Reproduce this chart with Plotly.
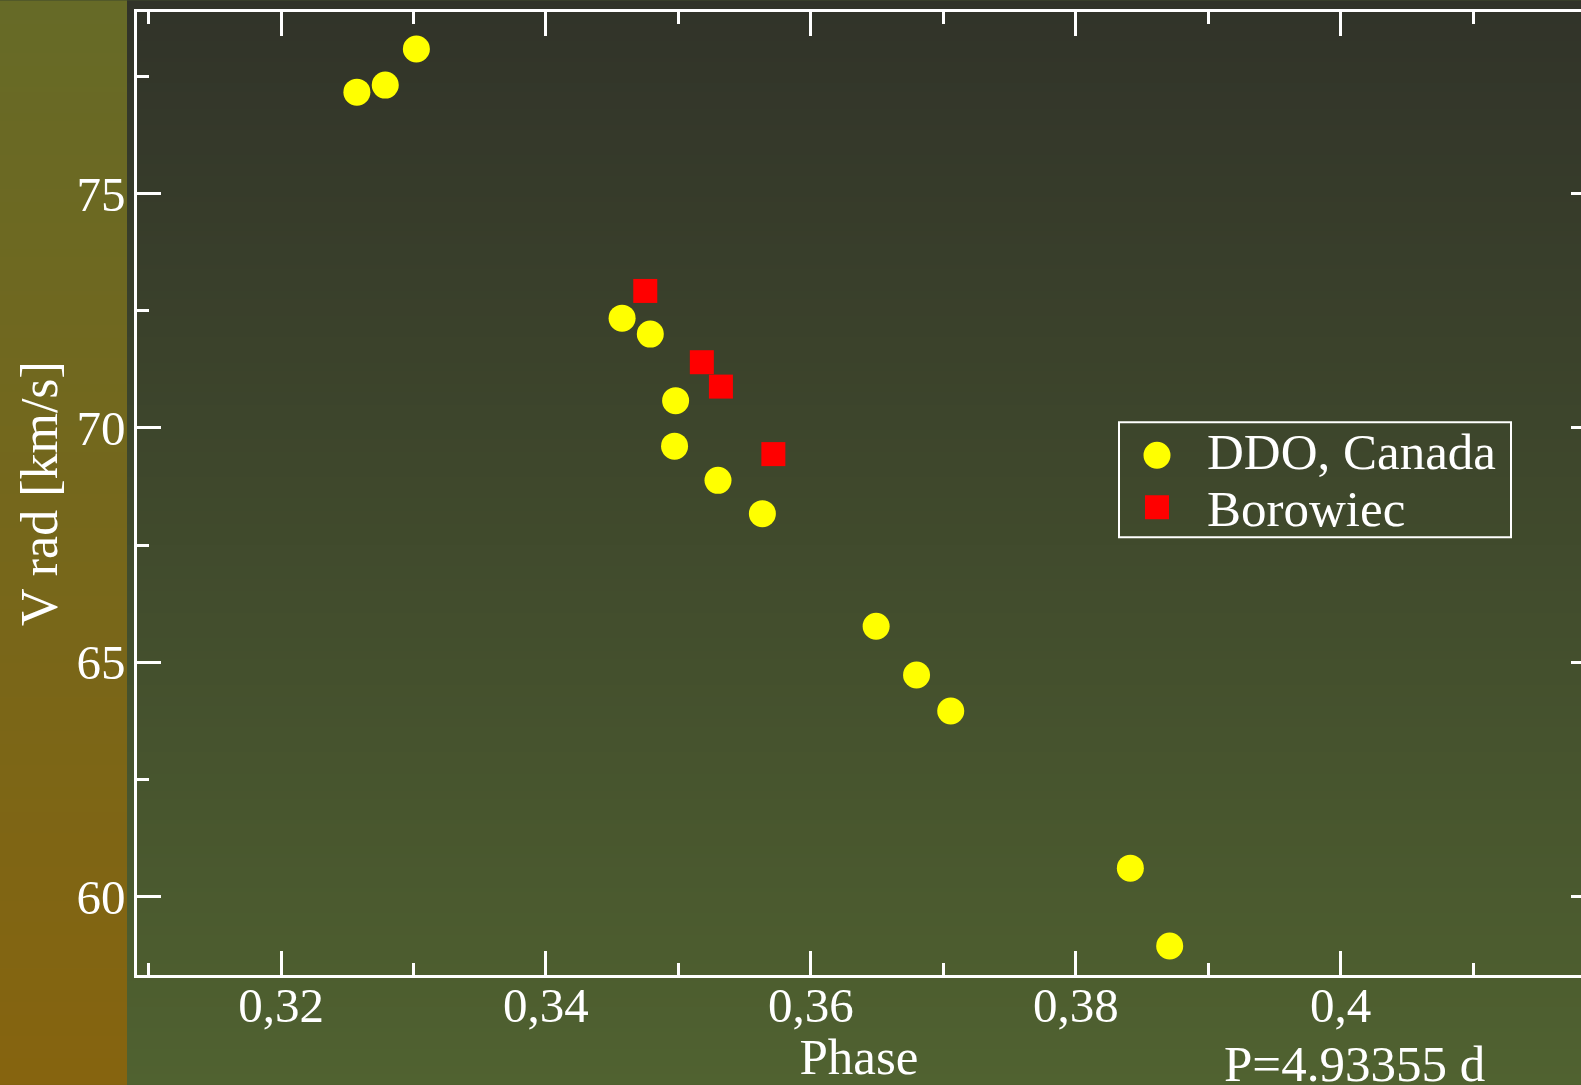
import plotly.graph_objects as go
import zlib, struct, base64

# ---------------- data ----------------
ddo_phase = [0.32573, 0.32787, 0.33022, 0.34575, 0.34788, 0.34979, 0.34971,
             0.35299, 0.35634, 0.36493, 0.36798, 0.37056, 0.38412, 0.38709]
ddo_vrad = [77.16, 77.31, 78.08, 72.34, 72.00, 70.58, 69.61,
            68.88, 68.17, 65.77, 64.73, 63.96, 60.61, 58.95]

bor_phase = [0.34750, 0.35177, 0.35321, 0.35717]
bor_vrad = [72.92, 71.40, 70.88, 69.44]

series_names = ["DDO, Canada", "Borowiec"]
series_colors = ["#ffff00", "#ff0000"]

x_tickvals = [0.32, 0.34, 0.36, 0.38, 0.40]
x_ticktext = ["0,32", "0,34", "0,36", "0,38", "0,4"]
y_tickvals = [60, 65, 70, 75]
y_ticktext = ["60", "65", "70", "75"]

x_title = "Phase"
y_title = "V rad [km/s]"
period_note = "P=4.93355 d"

# ---------------- geometry ----------------
W, H = 1581, 1085
ML, MT, MB, MR = 137, 11.5, 110, 0
PW = W - ML - MR
PH = H - MT - MB

FONT = "Liberation Serif, Times New Roman, serif"


def png_gradient(c_top, c_bot, h=256):
    raw = b""
    for i in range(h):
        t = i / (h - 1)
        r, g, b = [int(round(a + (bb - a) * t)) for a, bb in zip(c_top, c_bot)]
        raw += b"\x00" + bytes([r, g, b, r, g, b])

    def chunk(tag, data):
        return (struct.pack(">I", len(data)) + tag + data +
                struct.pack(">I", zlib.crc32(tag + data) & 0xffffffff))

    png = (b"\x89PNG\r\n\x1a\n" +
           chunk(b"IHDR", struct.pack(">IIBBBBB", 2, h, 8, 2, 0, 0, 0)) +
           chunk(b"IDAT", zlib.compress(raw)) + chunk(b"IEND", b""))
    return "data:image/png;base64," + base64.b64encode(png).decode()


def px_x(p):
    return (p - ML) / PW


def px_y(p):
    return (H - MB - p) / PH


left_img = png_gradient((0x66, 0x6a, 0x27), (0x86, 0x64, 0x0f))
main_img = png_gradient((0x31, 0x33, 0x29), (0x50, 0x62, 0x30))

fig = go.Figure()
fig.add_trace(go.Scatter(
    x=ddo_phase, y=ddo_vrad, mode="markers", name=series_names[0],
    showlegend=False,
    marker=dict(symbol="circle", size=27, color=series_colors[0], line=dict(width=0)),
))
fig.add_trace(go.Scatter(
    x=bor_phase, y=bor_vrad, mode="markers", name=series_names[1],
    showlegend=False,
    marker=dict(symbol="square", size=24, color=series_colors[1], line=dict(width=0)),
))
# invisible trace to carry the right-hand tick axis
fig.add_trace(go.Scatter(x=[None], y=[None], yaxis="y2", showlegend=False,
                         hoverinfo="skip"))

xr = [0.309129, 0.418141]
yr = [58.331, 78.869]

# ---------------- legend (box, keys, labels) ----------------
LEG_L, LEG_R, LEG_T, LEG_B = 1119, 1511, 422, 537
KEY_X = 1157
ROW_Y = [455, 507]
TXT_Y = [452.5, 510]

shapes = [
    dict(type="rect", xref="paper", yref="paper",
         x0=px_x(LEG_L), x1=px_x(LEG_R), y0=px_y(LEG_B), y1=px_y(LEG_T),
         line=dict(color="white", width=2), fillcolor="rgba(0,0,0,0)", layer="above"),
    dict(type="circle", xref="paper", yref="paper",
         xsizemode="pixel", ysizemode="pixel",
         xanchor=px_x(KEY_X), yanchor=px_y(ROW_Y[0]),
         x0=-13.5, x1=13.5, y0=-13.5, y1=13.5,
         line=dict(width=0), fillcolor=series_colors[0], layer="above"),
    dict(type="rect", xref="paper", yref="paper",
         xsizemode="pixel", ysizemode="pixel",
         xanchor=px_x(KEY_X), yanchor=px_y(ROW_Y[1]),
         x0=-12, x1=12, y0=-12, y1=12,
         line=dict(width=0), fillcolor=series_colors[1], layer="above"),
]

annotations = [
    dict(text=series_names[i], xref="paper", yref="paper",
         x=px_x(1205), y=px_y(TXT_Y[i] - 1), xanchor="left", yanchor="middle",
         showarrow=False, font=dict(family=FONT, size=51, color="white"))
    for i in range(2)
]
annotations.append(
    dict(text=period_note, xref="paper", yref="paper",
         x=px_x(1354), y=px_y(1064), xanchor="center", yanchor="middle",
         showarrow=False, font=dict(family=FONT, size=51, color="white")))

fig.update_layout(
    width=W, height=H,
    margin=dict(l=ML, r=MR, t=MT, b=MB, pad=0, autoexpand=False),
    paper_bgcolor="#404a2c",
    plot_bgcolor="rgba(0,0,0,0)",
    font=dict(family=FONT, size=49, color="white"),
    images=[
        dict(source=left_img, xref="paper", yref="paper",
             x=px_x(0), y=px_y(0), sizex=127 / PW, sizey=H / PH,
             xanchor="left", yanchor="top", sizing="stretch", layer="below"),
        dict(source=main_img, xref="paper", yref="paper",
             x=px_x(127), y=px_y(0), sizex=(W - 127) / PW, sizey=H / PH,
             xanchor="left", yanchor="top", sizing="stretch", layer="below"),
    ],
    xaxis=dict(
        range=xr, showgrid=False, zeroline=False, automargin=False,
        showline=True, linecolor="white", linewidth=2.5, mirror="ticks",
        ticks="inside", ticklen=24, tickwidth=2.5, tickcolor="white",
        tickmode="array", tickvals=x_tickvals, ticktext=x_ticktext,
        tickfont=dict(family=FONT, size=49, color="white"),
        ticklabelstandoff=-15,
        minor=dict(tickmode="linear", tick0=0.30, dtick=0.01, ticks="inside",
                   ticklen=12, tickwidth=2.5, tickcolor="white", showgrid=False),
        title=dict(text=x_title, font=dict(family=FONT, size=51, color="white"),
                   standoff=23),
    ),
    yaxis=dict(
        range=yr, showgrid=False, zeroline=False, automargin=False,
        showline=True, linecolor="white", linewidth=2.5, mirror=False,
        ticks="inside", ticklen=24, tickwidth=2.5, tickcolor="white",
        tickmode="array", tickvals=y_tickvals, ticktext=y_ticktext,
        tickfont=dict(family=FONT, size=49, color="white"),
        ticklabelstandoff=-1,
        minor=dict(tickmode="linear", tick0=0, dtick=2.5, ticks="inside",
                   ticklen=12, tickwidth=2.5, tickcolor="white", showgrid=False),
        title=dict(text=y_title, font=dict(family=FONT, size=52, color="white"),
                   standoff=3),
    ),
    yaxis2=dict(
        range=yr, overlaying="y", side="right", showgrid=False, zeroline=False,
        automargin=False,
        showline=False, ticks="inside", ticklen=10, tickwidth=2.5, tickcolor="white",
        tickmode="array", tickvals=y_tickvals, showticklabels=False,
    ),
    shapes=shapes,
    annotations=annotations,
    showlegend=False,
)

fig.write_html("out.html",
               config=dict(displayModeBar=False),
               post_script="document.body.style.margin='0';"
                           "document.body.style.overflow='hidden';")
